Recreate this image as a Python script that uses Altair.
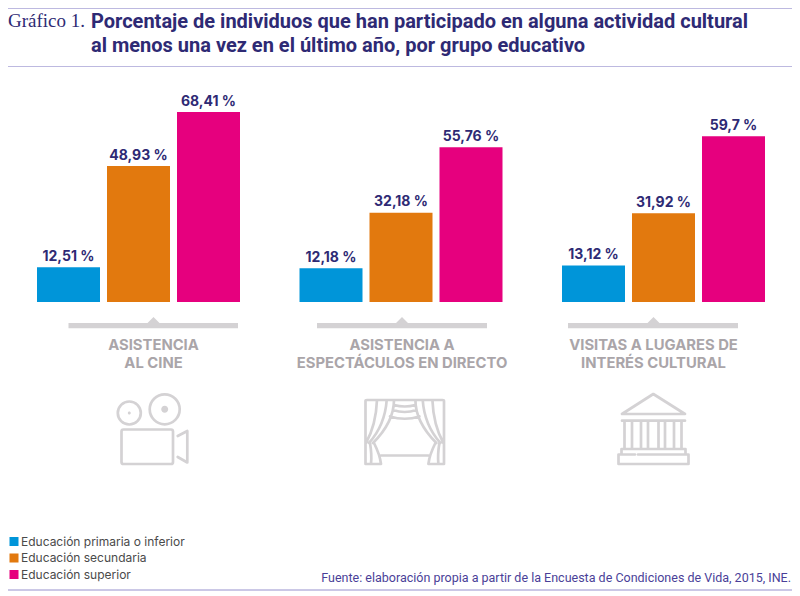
import altair as alt
import pandas as pd

categories = ["Cine", "Espectáculos", "Lugares"]
groups = ["Educación primaria o inferior", "Educación secundaria", "Educación superior"]
colors = ["#0095d9", "#e2790e", "#e6007e"]
cine = [12.51, 48.93, 68.41]
directo = [12.18, 32.18, 55.76]
lugares = [13.12, 31.92, 59.70]
labels = ["12,51 %", "48,93 %", "68,41 %", "12,18 %", "32,18 %", "55,76 %", "13,12 %", "31,92 %", "59,7 %"]

rows = []
for c, series in zip(categories, [cine, directo, lugares]):
    for g, v in zip(groups, series):
        rows.append({"cat": c, "edu": g, "v": v})
df = pd.DataFrame(rows)
df["label"] = labels

NAVY = "#2e2a74"
LINE = "#bdb9e0"
GREY = "#d4d2d4"
TXT = "#aaa5a9"
OX, OY = 8, 8  # page margin

x_enc = alt.X("cat:N", sort=categories, axis=None,
              scale=alt.Scale(range=[-0.75, 786.75], paddingInner=0, paddingOuter=0))
off_enc = alt.XOffset("edu:N", sort=groups,
                      scale=alt.Scale(paddingInner=0.1, paddingOuter=0.425))
y_enc = alt.Y("v:Q", axis=None, scale=alt.Scale(domain=[0, 100], range=[294, 16.3]))

bars = alt.Chart(df).mark_bar(size=63).encode(
    x=x_enc, xOffset=off_enc, y=y_enc,
    color=alt.Color("edu:N", sort=groups, scale=alt.Scale(domain=groups, range=colors),
                    legend=alt.Legend(orient="none", legendX=0, legendY=527, title=None,
                                      symbolType="square", symbolSize=81, symbolStrokeWidth=0,
                                      symbolOpacity=1, padding=0, labelOffset=1, rowPadding=3.5,
                                      labelFont="Inter", labelFontSize=12, labelColor="#4a4a4a",
                                      labelLimit=300, clipHeight=13)),
)
values = alt.Chart(df).mark_text(font="Inter", fontWeight=700, fontSize=14, color=NAVY,
                                 baseline="bottom", dy=-3.5).encode(
    x=x_enc, xOffset=off_enc, y=y_enc, text="label:N")

one = {"values": [{}]}


def text(s, x, y, **kw):
    return alt.Chart(alt.Data(**one)).mark_text(text=s, baseline="alphabetic", **kw).encode(
        x=alt.value(x - OX), y=alt.value(y - OY))


def rule(y, w=1, color=LINE):
    return alt.Chart(alt.Data(**one)).mark_rule(color=color, strokeWidth=w).encode(
        x=alt.value(0), x2=alt.value(784), y=alt.value(y - OY))


def path(d, filled=False, w=2.7):
    kw = dict(fill=GREY, strokeWidth=0) if filled else dict(stroke=GREY, strokeWidth=w, fillOpacity=0)
    return alt.Chart(alt.Data(**one)).mark_point(
        shape=d, size=4, filled=filled, opacity=1, strokeJoin="round", strokeCap="round", **kw
    ).encode(x=alt.value(0 - OX), y=alt.value(0 - OY))


def circle(cx, cy, r):
    return f"M{cx-r} {cy}A{r} {r} 0 1 1 {cx+r} {cy}A{r} {r} 0 1 1 {cx-r} {cy}Z"


def bracket(x0, x1, ax):
    return f"M{x0} 323L{ax-6} 323L{ax} 317L{ax+6} 323L{x1} 323L{x1} 328.3L{x0} 328.3Z"


TITLE = dict(font="Roboto", fontWeight=700, fontSize=20, color=NAVY, align="left")
CAT = dict(font="Inter", fontWeight=700, fontSize=14.8, color=TXT, align="center")

camera = (f"M123.5 429.5H171Q173 429.5 173 431.5V462Q173 464 171 464H123.5Q121.5 464 121.5 462V431.5Q121.5 429.5 123.5 429.5Z"
          f"M177.7 436L187.3 431V462.5L177.7 457"
          + circle(129.3, 413, 11.5) + circle(164.7, 409.3, 15))
camera_dots = circle(129.3, 413, 1.5) + circle(164.7, 409.3, 3.5)

cx = 404.7
def mirror(x):
    return 2 * cx - x
curtain = "M365.5 464V401Q365.5 400 367 400H442.5Q444 400 444 401V464"
for f in (lambda v: v, mirror):
    curtain += (f"M{f(377)} 400Q{f(376)} 425 {f(366)} 443"
                f"M{f(386.7)} 400Q{f(385)} 425 {f(369)} 443"
                f"M{f(394)} 400Q{f(394)} 422 {f(373)} 443"
                f"M{f(370)} 443Q{f(372)} 455 {f(371)} 464"
                f"M{f(374)} 443Q{f(380)} 455 {f(381)} 464"
                f"M{f(365.5)} 464H{f(381)}")
curtain += ("M381 455.5H428.4M394 405Q404.7 408 415.4 405M393 410Q404.7 414 416.4 410M390 416.5Q404.7 421 419.4 416.5")

temple = "M653.3 394L622 414H685ZM622 420.7H685M621.5 449H685.5V454M621.5 449V454M618.5 454.5H635M638 454.5H688.5V464H618.5V454.5"
for a in (624.5, 632, 641, 648, 658.5, 665, 674, 681.5):
    temple += f"M{a} 421V448"

layers = [
    rule(8.5), rule(66.5), rule(590, w=2, color="#cbc8e6"),
    text("Gráfico 1.", 8, 27, font="Liberation Serif", fontSize=19, color=NAVY, align="left"),
    text("Porcentaje de individuos que han participado en alguna actividad cultural", 91, 28, **TITLE),
    text("al menos una vez en el último año, por grupo educativo", 91, 52, **TITLE),
    bars, values,
    path(bracket(68.5, 238, 153.5), filled=True),
    path(bracket(317, 487, 402), filled=True),
    path(bracket(568, 738, 653.5), filled=True),
    text("ASISTENCIA", 153.5, 350, **CAT), text("AL CINE", 153.5, 368, **CAT),
    text("ASISTENCIA A", 402, 350, **CAT), text("ESPECTÁCULOS EN DIRECTO", 402, 368, **CAT),
    text("VISITAS A LUGARES DE", 653.5, 350, **CAT), text("INTERÉS CULTURAL", 653.5, 368, **CAT),
    path(camera), path(camera_dots, filled=True), path(curtain), path(temple),
    text("Fuente: elaboración propia a partir de la Encuesta de Condiciones de Vida, 2015, INE.",
         791, 582, font="Roboto", fontSize=12.5, color="#4a3f98", align="right"),
]

chart = alt.layer(*layers).properties(
    width=784, height=586, padding=0, background="white",
    autosize=alt.AutoSizeParams(type="none"),
).configure_view(stroke=None)

chart.save("out.html", embed_options={"renderer": "svg", "actions": False})
